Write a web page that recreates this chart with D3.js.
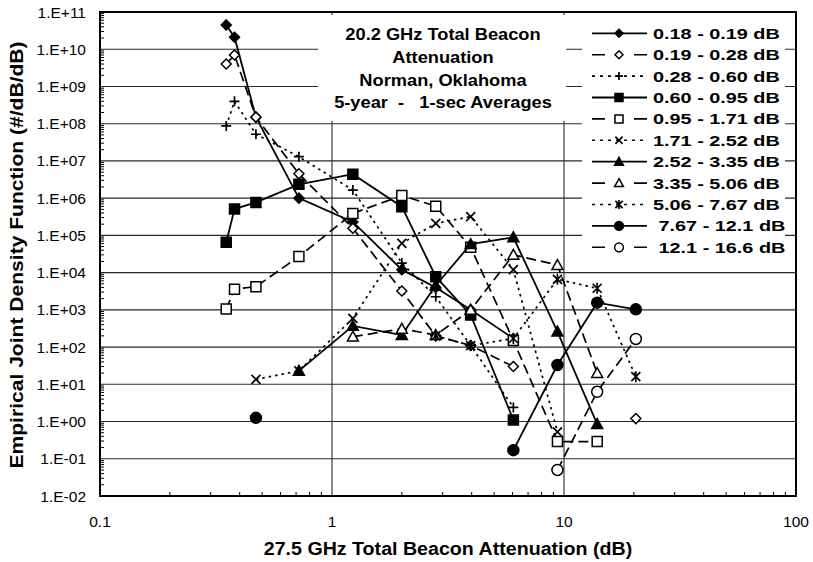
<!DOCTYPE html>
<html>
<head>
<meta charset="utf-8">
<script src="https://cdn.jsdelivr.net/npm/d3@7"></script>
<style>
  body { margin: 0; background: #fff; }
  svg { font-family: "Liberation Sans", Arial, Helvetica, sans-serif; }
</style>
</head>
<body>
<div id="chart"></div>
<script>
// 27.5 GHz attenuation bins (x) shared by every series
const xBins = [0.35, 0.38, 0.47, 0.72, 1.23, 2.0, 2.8, 3.96, 6.05, 9.37, 13.9, 20.4];

// joint density per 20.2 GHz attenuation class, null = no point
const s018 = [4.5e10, 2.1e10, 1.5e8, 1.0e6, 2.3e5, 1.2e4, 4.0e3, 1.0e3, 1.7e2, null, null, null];
const s019 = [4.0e9, 7.0e9, 1.5e8, 4.5e6, 1.55e5, 3.2e3, 2.0e2, 1.1e2, 30, null, null, 1.2];
const s028 = [8.7e7, 4.0e8, 5.2e7, 1.3e7, 1.65e6, 1.8e4, 2.25e3, 1.1e2, 2.4, null, null, null];
const s060 = [6.5e4, 5.1e5, 7.7e5, 2.35e6, 4.4e6, 5.9e5, 7.8e3, 7.3e2, 1.1, null, null, null];
const s095 = [1.05e3, 3.6e3, 4.2e3, 2.7e4, 3.9e5, 1.17e6, 6.1e5, 4.8e4, 1.5e2, 0.29, 0.29, null];
const s171 = [null, null, 13.6, 23, 5.9e2, 6.1e4, 2.1e5, 3.2e5, 1.2e4, 0.53, null, null];
const s252 = [null, null, null, 23, 3.7e2, 2.1e2, 4.5e3, 5.8e4, 8.9e4, 2.6e2, 0.85, null];
const s335 = [null, null, null, null, 1.9e2, 3.1e2, 2.1e2, 1.0e3, 3.0e4, 1.6e4, 20, null];
const s506 = [null, null, null, null, null, null, 2.0e2, 1.1e2, 1.7e2, 6.6e3, 3.8e3, 16];
const s767 = [null, null, 1.26, null, null, null, null, null, 0.17, 33, 1.56e3, 1.03e3];
const s121 = [null, null, null, null, null, null, null, null, null, 0.05, 6.3, 1.65e2];

const seriesLabels = ["0.18 - 0.19 dB", "0.19 - 0.28 dB", "0.28 - 0.60 dB", "0.60 - 0.95 dB",
  "0.95 - 1.71 dB", "1.71 - 2.52 dB", "2.52 - 3.35 dB", "3.35 - 5.06 dB", "5.06 - 7.67 dB",
  " 7.67 - 12.1 dB", " 12.1 - 16.6 dB"];
const seriesValues = [s018, s019, s028, s060, s095, s171, s252, s335, s506, s767, s121];
const markerTypes = ["diamond", "diamond", "plus", "square", "square", "cross", "triangle", "triangle", "asterisk", "circle", "circle"];
const markerFilled = [true, false, false, true, false, false, true, false, false, true, false];
const lineStyles = ["solid", "dash", "dot", "solid", "dash", "dot", "solid", "dash", "dot", "solid", "dash"];

const xTicks = [0.1, 1, 10, 100];
const yTicks = d3.range(-2, 12).map(e => Math.pow(10, e));
const titleLines = ["20.2 GHz Total Beacon", "Attenuation", "Norman, Oklahoma", "5-year  -   1-sec Averages"];

const width = 813, height = 562;
const x = d3.scaleLog().domain([0.1, 100]).range([100, 796]);
const y = d3.scaleLog().domain([1e-2, 1e11]).range([496, 12]);

const svg = d3.select("#chart").append("svg")
  .attr("width", width)
  .attr("height", height);

function stretch(sel, k) {
  sel.each(function() {
    const w = this.getComputedTextLength();
    d3.select(this).attr("textLength", w * k).attr("lengthAdjust", "spacingAndGlyphs");
  });
}

function fmtExp(v) {
  const e = Math.round(Math.log10(v));
  return "1.E" + (e < 0 ? "-" : "+") + String(Math.abs(e)).padStart(2, "0");
}

function markerPath(type, r) {
  switch (type) {
    case "diamond": return `M0,${-r}L${r},0L0,${r}L${-r},0Z`;
    case "square": return `M${-r},${-r}H${r}V${r}H${-r}Z`;
    case "triangle": return `M0,${-r}L${r},${r * 0.8}L${-r},${r * 0.8}Z`;
    case "plus": return `M${-r},0H${r}M0,${-r}V${r}`;
    case "cross": return `M${-r},${-r}L${r},${r}M${-r},${r}L${r},${-r}`;
    case "asterisk": return `M${-r},${-r}L${r},${r}M${-r},${r}L${r},${-r}M0,${-r - 1}V${r + 1}`;
    case "circle": return `M${r},0A${r},${r} 0 1,1 ${-r},0A${r},${r} 0 1,1 ${r},0Z`;
  }
}

function drawMarker(g, type, filled, r) {
  const open = ["plus", "cross", "asterisk"].includes(type);
  g.append("path")
    .attr("d", markerPath(type, r))
    .attr("fill", open ? "none" : (filled ? "#000" : "#fff"))
    .attr("stroke", "#000")
    .attr("stroke-width", open ? 1.7 : 1.5);
}

const dashes = { solid: null, dash: "10,5", dot: "2.5,4" };
const markerSize = { diamond: 5, square: 5, triangle: 5.5, plus: 5, cross: 4.5, asterisk: 4.5, circle: 5.5 };

// grid
svg.append("g").selectAll("line")
  .data(yTicks.slice(1, -1))
  .join("line")
  .attr("x1", 100).attr("x2", 796)
  .attr("y1", d => y(d)).attr("y2", d => y(d))
  .attr("stroke", "#2a2a2a").attr("stroke-width", 1.1);

svg.append("g").selectAll("line")
  .data([1, 10])
  .join("line")
  .attr("x1", d => x(d)).attr("x2", d => x(d))
  .attr("y1", 12).attr("y2", 496)
  .attr("stroke", "#2a2a2a").attr("stroke-width", 1.1);

// minor ticks inside the frame
const minors = [];
for (let e = -2; e < 11; e++) for (let m = 2; m < 10; m++) minors.push(m * Math.pow(10, e));
svg.append("g").selectAll("line")
  .data(minors)
  .join("line")
  .attr("x1", 100).attr("x2", 104)
  .attr("y1", d => y(d)).attr("y2", d => y(d))
  .attr("stroke", "#000");

const xMinors = [];
for (let e = -1; e < 2; e++) for (let m = 2; m < 10; m++) xMinors.push(m * Math.pow(10, e));
svg.append("g").selectAll("line")
  .data(xMinors)
  .join("line")
  .attr("x1", d => x(d)).attr("x2", d => x(d))
  .attr("y1", 496).attr("y2", 492)
  .attr("stroke", "#000");

// series
const line = d3.line()
  .defined(d => d.v != null)
  .x(d => x(d.x))
  .y(d => y(d.v));

seriesValues.forEach((vals, i) => {
  const pts = vals.map((v, j) => ({ x: xBins[j], v: v }));
  const g = svg.append("g");
  g.append("path")
    .attr("d", line(pts))
    .attr("fill", "none")
    .attr("stroke", "#000")
    .attr("stroke-width", lineStyles[i] === "solid" ? 1.8 : 1.7)
    .attr("stroke-dasharray", dashes[lineStyles[i]]);
  pts.filter(d => d.v != null).forEach(d => {
    const m = g.append("g").attr("transform", `translate(${x(d.x)},${y(d.v)})`);
    drawMarker(m, markerTypes[i], markerFilled[i], markerSize[markerTypes[i]]);
  });
});

// frame
svg.append("rect")
  .attr("x", 100).attr("y", 12)
  .attr("width", 696).attr("height", 484)
  .attr("fill", "none")
  .attr("stroke", "#000")
  .attr("stroke-width", 2);

// title box
svg.append("rect")
  .attr("x", 318).attr("y", 15)
  .attr("width", 248).attr("height", 106)
  .attr("fill", "#fff");

const title = svg.append("g").selectAll("text")
  .data(titleLines)
  .join("text")
  .attr("x", 443)
  .attr("y", (d, i) => 40 + i * 22.8)
  .attr("text-anchor", "middle")
  .style("white-space", "pre")
  .attr("font-size", "16px")
  .attr("font-weight", "bold")
  .text(d => d);
stretch(title, 1.14);

// legend
const legend = svg.append("g");
legend.append("rect")
  .attr("x", 582).attr("y", 15)
  .attr("width", 203).attr("height", 243)
  .attr("fill", "#fff");

const legendDash = { solid: null, dash: "13,29", dot: "3,5" };
seriesLabels.forEach((lab, i) => {
  const cy = 33.3 + i * 21.4;
  legend.append("line")
    .attr("x1", 592).attr("x2", 647)
    .attr("y1", cy).attr("y2", cy)
    .attr("stroke", "#000")
    .attr("stroke-width", lineStyles[i] === "solid" ? 1.8 : 1.6)
    .attr("stroke-dasharray", legendDash[lineStyles[i]]);
  const m = legend.append("g").attr("transform", `translate(619,${cy})`);
  drawMarker(m, markerTypes[i], markerFilled[i], markerSize[markerTypes[i]] * 0.8);
  const t = legend.append("text")
    .attr("x", 653)
    .attr("y", cy + 5.5)
    .style("white-space", "pre")
    .attr("font-size", "15.5px")
    .attr("font-weight", "bold")
    .text(lab);
  stretch(t, 1.28);
});

// axis labels
svg.append("g").selectAll("text")
  .data(yTicks)
  .join("text")
  .attr("x", 86)
  .attr("y", d => y(d) + 5.5)
  .attr("text-anchor", "end")
  .attr("font-size", "15.5px")
  .text(d => fmtExp(d));

svg.append("g").selectAll("text")
  .data(xTicks)
  .join("text")
  .attr("x", d => x(d))
  .attr("y", 527)
  .attr("text-anchor", "middle")
  .attr("font-size", "15.5px")
  .text(d => d3.format("~g")(d));

const xTitle = svg.append("text")
  .attr("x", 448)
  .attr("y", 555)
  .attr("text-anchor", "middle")
  .attr("font-size", "18px")
  .attr("font-weight", "bold")
  .text("27.5 GHz Total Beacon Attenuation (dB)");
stretch(xTitle, 1.09);

const yTitle = svg.append("text")
  .attr("transform", "translate(23,255) rotate(-90)")
  .attr("text-anchor", "middle")
  .attr("font-size", "18px")
  .attr("font-weight", "bold")
  .text("Empirical Joint Density Function (#/dB/dB)");
stretch(yTitle, 1.17);
</script>
</body>
</html>
